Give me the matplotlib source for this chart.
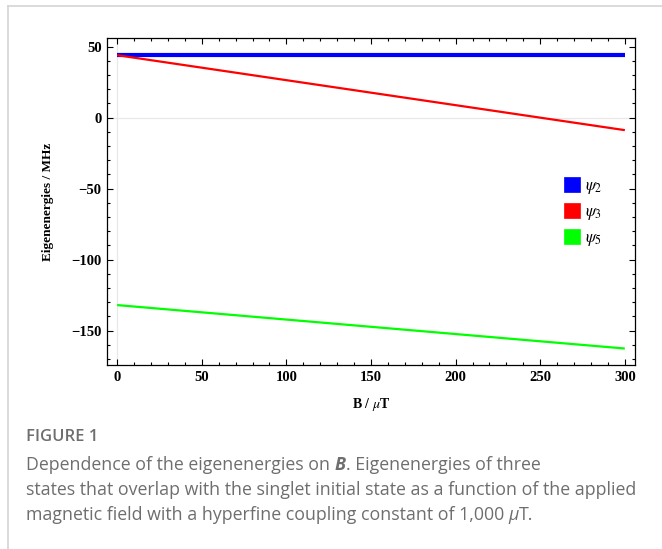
import matplotlib
matplotlib.use("Agg")
import matplotlib.pyplot as plt
from matplotlib.lines import Line2D
from matplotlib.patches import Patch
from matplotlib.ticker import MultipleLocator

# Magnetic field (uT) and eigenenergies (MHz) at the ends of the sweep
field = [0, 300]
psi2 = [44.0, 44.0]
psi3 = [44.0, -8.8]
psi5 = [-132.0, -162.6]

series_labels = [r"$\psi_2$", r"$\psi_3$", r"$\psi_5$"]
series_colors = ["#0000ff", "#ff0000", "#00ff00"]
series_widths = [3.0, 1.6, 1.6]

x_ticks = [0, 50, 100, 150, 200, 250, 300]
y_ticks = [50, 0, -50, -100, -150]

caption_title = "FIGURE 1"
caption_lines = [
    [("Dependence of the eigenenergies on ", "normal", "normal"),
     ("B", "bold", "italic"),
     (". Eigenenergies of three", "normal", "normal")],
    [("states that overlap with the singlet initial state as a function of the applied", "normal", "normal")],
    [("magnetic field with a hyperfine coupling constant of 1,000 ", "normal", "normal"),
     ("\u03bc", "normal", "italic"),
     ("T.", "normal", "normal")],
]

plt.rcParams["mathtext.fontset"] = "stix"

W, H = 662, 549
fig = plt.figure(figsize=(W / 100, H / 100), dpi=100)

# light frame on the top and left edge of the panel
fig.add_artist(Line2D([8 / W, 8 / W], [0, 1 - 6 / H], color="#d4d4d4", lw=1.2,
                      transform=fig.transFigure))
fig.add_artist(Line2D([8 / W, 1], [1 - 6 / H, 1 - 6 / H], color="#d4d4d4", lw=1.2,
                      transform=fig.transFigure))

ax = fig.add_axes([107 / W, 1 - 365 / H, (635 - 107) / W, (365 - 38) / H])

ax.axhline(0, color="#e8e8e8", lw=0.9, zorder=0)
ax.axvline(0, color="#e8e8e8", lw=0.9, zorder=0)

for vals, c, w in zip([psi2, psi3, psi5], series_colors, series_widths):
    ax.plot(field, vals, color=c, lw=w, solid_capstyle="butt")

ax.set_xlim(-6, 306)
ax.set_ylim(-174.2, 56.1)
ax.set_xticks(x_ticks)
ax.set_yticks(y_ticks)
ax.xaxis.set_minor_locator(MultipleLocator(10))
ax.yaxis.set_minor_locator(MultipleLocator(10))
ax.tick_params(which="both", direction="in", top=True, right=True, color="black", width=0.8)
ax.tick_params(which="major", length=4.5, pad=4)
ax.tick_params(which="minor", length=2.5)

tick_font = dict(family="Liberation Serif", weight="bold", size=10.5)
ax.set_xticklabels([str(t) for t in x_ticks], **tick_font)
ax.set_yticklabels([str(t).replace("-", "\u2212") for t in y_ticks], **tick_font)
for s in ax.spines.values():
    s.set_linewidth(0.9)

ax.set_xlabel(r"B / $\mu$T", family="Liberation Serif", weight="bold", size=10, labelpad=9)
ax.set_ylabel("Eigenenergies / MHz", family="Liberation Serif", weight="bold", size=9.5,
              labelpad=12)

handles = [Patch(facecolor=c, edgecolor=c, lw=0.5) for c in series_colors]
ax.legend(handles, series_labels, loc="upper left",
          bbox_to_anchor=(556 / W, 1 - 168 / H), bbox_transform=fig.transFigure,
          frameon=False, fontsize=12, handlelength=0.96, handleheight=0.96,
          handletextpad=0.3, labelspacing=0.36, borderpad=0)

# caption below the plot
cap_color = "#6e6e6e"
fig.text(26 / W, 1 - 437 / H, caption_title, family="Open Sans", weight="semibold",
         size=12, color=cap_color, va="center")

fig.canvas.draw()
renderer = fig.canvas.get_renderer()
line_y = [465, 490, 515]
for segs, yp in zip(caption_lines, line_y):
    x = 26
    for txt, wt, st in segs:
        t = fig.text(x / W, 1 - yp / H, txt, family="Open Sans", weight=wt, style=st,
                     size=12.8, color=cap_color, va="center")
        bb = t.get_window_extent(renderer)
        x += bb.width

fig.savefig("out.png", dpi=100)
